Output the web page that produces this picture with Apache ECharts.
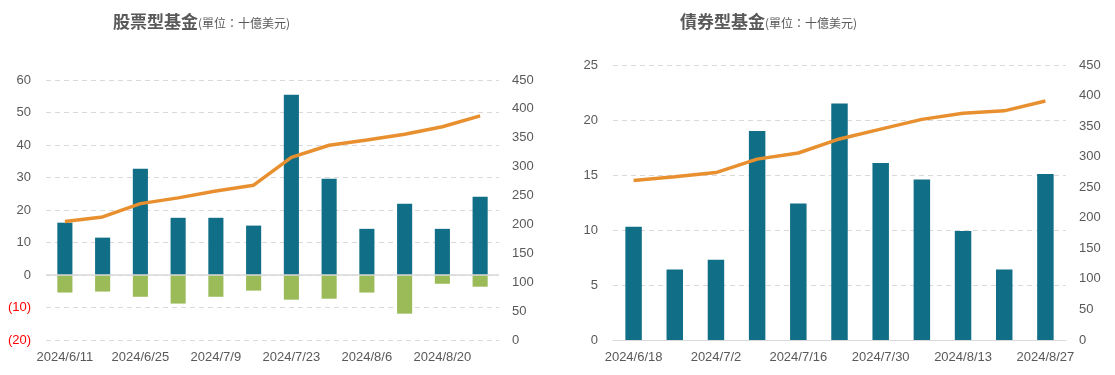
<!DOCTYPE html>
<html>
<head>
<meta charset="utf-8">
<script src="https://cdn.jsdelivr.net/npm/echarts@6/dist/echarts.min.js"></script>
<style>
  html, body { margin: 0; padding: 0; background: #fff; }
  #main { width: 1115px; height: 375px; }
</style>
</head>
<body>
<div id="main"></div>
<script>
// 股票型基金：12週
var stockDates = ['2024/6/11', '2024/6/18', '2024/6/25', '2024/7/2', '2024/7/9', '2024/7/16',
                  '2024/7/23', '2024/7/30', '2024/8/6', '2024/8/13', '2024/8/20', '2024/8/27'];
var stockIn  = [16.1, 11.5, 32.7, 17.6, 17.6, 15.2, 55.5, 29.6, 14.2, 21.9, 14.2, 24.1];
var stockOut = [-5.4, -5.1, -6.7, -8.8, -6.7, -4.8, -7.6, -7.3, -5.4, -11.9, -2.7, -3.6];
var stockCum = [205, 213, 236, 246, 258, 268, 316, 337, 346, 356, 369, 388];

// 債券型基金：11週
var bondDates = ['2024/6/18', '2024/6/25', '2024/7/2', '2024/7/9', '2024/7/16', '2024/7/23',
                 '2024/7/30', '2024/8/6', '2024/8/13', '2024/8/20', '2024/8/27'];
var bondIn  = [10.3, 6.4, 7.3, 19.0, 12.4, 21.5, 16.1, 14.6, 9.9, 6.4, 15.1];
var bondCum = [261, 267, 274, 296, 306, 329, 345, 361, 371, 375, 391];

var chart = echarts.init(document.getElementById('main'));

var txtColor = '#595959';
var font = 'Liberation Sans, Arial, sans-serif';
var gridLine = { lineStyle: { color: '#d9d9d9', type: [5, 4], width: 1 } };

function titleRich(name) {
    return '{a|' + name + '}{b|(單位：十億美元)}';
}
var titleStyle = {
    rich: {
        a: { fontSize: 17, fontWeight: 'bold', color: txtColor, fontFamily: 'Noto Sans CJK TC' },
        b: { fontSize: 12, fontWeight: 'normal', color: txtColor, fontFamily: 'Noto Sans CJK TC', padding: [3, 0, 0, 0] }
    }
};

var option = {
    animation: false,
    title: [
        { text: titleRich('股票型基金'), left: 108, top: 8, textStyle: titleStyle },
        { text: titleRich('債券型基金'), left: 675, top: 8, textStyle: titleStyle }
    ],
    grid: [
        { left: 46, right: 616, top: 80, bottom: 35 },
        { left: 613, right: 49, top: 65, bottom: 35 }
    ],
    xAxis: [
        {
            type: 'category', gridIndex: 0, data: stockDates,
            axisLine: { show: false, onZero: false }, axisTick: { show: false },
            axisLabel: { interval: 1, color: txtColor, fontSize: 13, fontFamily: font, margin: 11 }
        },
        {
            type: 'category', gridIndex: 1, data: bondDates,
            axisLine: { lineStyle: { color: '#d9d9d9' } }, axisTick: { show: false },
            axisLabel: { interval: 1, color: txtColor, fontSize: 13, fontFamily: font, margin: 11 }
        }
    ],
    yAxis: [
        {
            type: 'value', gridIndex: 0, min: -20, max: 60, interval: 10,
            splitLine: gridLine,
            axisLabel: {
                color: txtColor, fontSize: 13, fontFamily: font, margin: 15,
                formatter: function (v) {
                    return v < 0 ? '{neg|(' + Math.abs(v) + ')}' : v;
                },
                rich: { neg: { color: '#ff0000', fontSize: 13, fontFamily: font } }
            }
        },
        {
            type: 'value', gridIndex: 0, min: 0, max: 450, interval: 50,
            alignTicks: false, splitLine: { show: false },
            axisLabel: { color: txtColor, fontSize: 13, fontFamily: font, margin: 13 }
        },
        {
            type: 'value', gridIndex: 1, min: 0, max: 25, interval: 5,
            splitLine: gridLine,
            axisLabel: { color: txtColor, fontSize: 13, fontFamily: font, margin: 15 }
        },
        {
            type: 'value', gridIndex: 1, min: 0, max: 450, interval: 50,
            alignTicks: false, splitLine: { show: false },
            axisLabel: { color: txtColor, fontSize: 13, fontFamily: font, margin: 13 }
        }
    ],
    series: [
        {
            name: '股票流入', type: 'bar', xAxisIndex: 0, yAxisIndex: 0, stack: 's',
            data: stockIn, barWidth: '40%', itemStyle: { color: '#106e87' },
            markLine: {
                silent: true, symbol: 'none', label: { show: false },
                lineStyle: { color: '#d9d9d9', type: 'solid', width: 1.5 },
                data: [{ yAxis: 0 }]
            }
        },
        {
            name: '股票流出', type: 'bar', xAxisIndex: 0, yAxisIndex: 0, stack: 's',
            data: stockOut, barWidth: '40%', itemStyle: { color: '#9bbb59' }
        },
        {
            name: '股票累計', type: 'line', xAxisIndex: 0, yAxisIndex: 1,
            data: stockCum, showSymbol: false,
            lineStyle: { color: '#e8902f', width: 3.5 }
        },
        {
            name: '債券流入', type: 'bar', xAxisIndex: 1, yAxisIndex: 2,
            data: bondIn, barWidth: '40%', itemStyle: { color: '#106e87' }
        },
        {
            name: '債券累計', type: 'line', xAxisIndex: 1, yAxisIndex: 3,
            data: bondCum, showSymbol: false,
            lineStyle: { color: '#e8902f', width: 3.5 }
        }
    ]
};

chart.setOption(option);
window.addEventListener('resize', function () {
    chart.resize();
});
</script>
</body>
</html>
